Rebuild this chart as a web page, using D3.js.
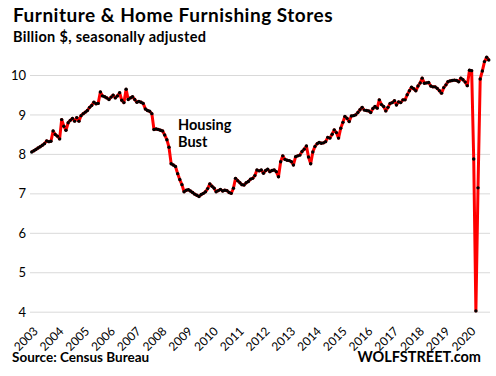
<!DOCTYPE html>
<html>
<head>
<meta charset="utf-8">
<script src="https://cdn.jsdelivr.net/npm/d3@7"></script>
<style>
  body { margin: 0; background: #fff; }
  svg text { font-family: Lato, "Open Sans", sans-serif; fill: #000; }
</style>
</head>
<body>
<div id="chart"></div>
<script>
// monthly sales, billion $, Jan 2003 .. Oct 2020
const startYear = 2003;
const v2003 = [8.05, 8.08, 8.11, 8.15, 8.18, 8.22, 8.26, 8.33, 8.31, 8.32, 8.58, 8.49];
const v2004 = [8.45, 8.38, 8.87, 8.70, 8.60, 8.79, 8.85, 8.90, 8.83, 8.92, 8.83, 8.97];
const v2005 = [9.02, 9.06, 9.10, 9.18, 9.23, 9.31, 9.27, 9.28, 9.57, 9.47, 9.45, 9.42];
const v2006 = [9.38, 9.44, 9.49, 9.42, 9.47, 9.55, 9.36, 9.30, 9.64, 9.38, 9.42, 9.45];
const v2007 = [9.38, 9.31, 9.33, 9.31, 9.28, 9.14, 9.10, 9.08, 9.02, 8.62, 8.63, 8.62];
const v2008 = [8.60, 8.58, 8.48, 8.36, 8.17, 7.75, 7.72, 7.68, 7.50, 7.35, 7.22, 7.04];
const v2009 = [7.08, 7.09, 7.06, 7.02, 6.98, 6.95, 6.92, 6.97, 7.00, 7.04, 7.12, 7.24];
const v2010 = [7.18, 7.13, 7.04, 7.07, 7.10, 7.06, 7.08, 7.07, 7.02, 7.00, 7.13, 7.38];
const v2011 = [7.32, 7.27, 7.22, 7.21, 7.27, 7.30, 7.36, 7.38, 7.45, 7.59, 7.57, 7.59];
const v2012 = [7.51, 7.58, 7.61, 7.55, 7.58, 7.59, 7.55, 7.42, 7.80, 7.95, 7.86, 7.84];
const v2013 = [7.83, 7.80, 7.72, 7.93, 7.95, 7.97, 8.06, 8.12, 8.20, 7.92, 7.75, 8.05];
const v2014 = [8.19, 8.26, 8.29, 8.27, 8.28, 8.31, 8.42, 8.40, 8.50, 8.61, 8.54, 8.40];
const v2015 = [8.65, 8.80, 8.95, 8.90, 8.82, 8.96, 8.97, 8.99, 9.05, 9.12, 9.18, 9.11];
const v2016 = [9.10, 9.09, 9.05, 9.15, 9.20, 9.16, 9.37, 9.25, 9.20, 9.09, 9.18, 9.28];
const v2017 = [9.30, 9.35, 9.24, 9.32, 9.30, 9.37, 9.37, 9.50, 9.60, 9.69, 9.65, 9.60];
const v2018 = [9.72, 9.80, 9.92, 9.79, 9.80, 9.81, 9.72, 9.70, 9.70, 9.66, 9.60, 9.54];
const v2019 = [9.68, 9.75, 9.83, 9.85, 9.86, 9.87, 9.86, 9.83, 9.92, 9.88, 9.82, 9.73];
const v2020 = [10.12, 10.11, 7.87, 4.02, 7.14, 9.90, 10.10, 10.34, 10.45, 10.38];

const yearLabels = d3.range(2003, 2021).map(String);
const yTicks = [4, 5, 6, 7, 8, 9, 10];

const allYears = [v2003, v2004, v2005, v2006, v2007, v2008, v2009, v2010, v2011,
                  v2012, v2013, v2014, v2015, v2016, v2017, v2018, v2019, v2020];
const data = [];
allYears.forEach((arr, i) => {
  arr.forEach((v, m) => data.push({ date: new Date(startYear + i, m, 1), value: v }));
});

const W = 496, H = 376;
const svg = d3.select("#chart").append("svg").attr("width", W).attr("height", H);

const x = d3.scaleTime()
  .domain([data[0].date, data[data.length - 1].date])
  .range([31.7, 488.8]);
const y = d3.scaleLinear().domain([4, 10]).range([311.7, 75]);

// gridlines + y labels
const yAxis = svg.append("g")
  .attr("transform", "translate(30,0)")
  .call(d3.axisLeft(y).tickValues(yTicks).tickSize(-460).tickPadding(4).tickFormat(d3.format("d")));
yAxis.select(".domain").remove();
yAxis.selectAll(".tick line").attr("stroke", "#d9d9d9");
yAxis.selectAll(".tick text").style("font-size", "13px").attr("dy", "0.35em");

// x labels, rotated -45
const xl = svg.append("g")
  .selectAll("g")
  .data(yearLabels)
  .join("g")
  .attr("transform", d => `translate(${x(new Date(+d, 0, 1)) + 4},329)`);
xl.append("text")
  .attr("transform", "rotate(-45)")
  .attr("text-anchor", "end")
  .attr("dy", "0.35em")
  .style("font-size", "12px")
  .text(d => d);

// line
const line = d3.line().x(d => x(d.date)).y(d => y(d.value));
svg.append("path")
  .datum(data)
  .attr("fill", "none")
  .attr("stroke", "#ff0000")
  .attr("stroke-width", 3)
  .attr("stroke-linejoin", "round")
  .attr("d", line);

svg.append("g")
  .selectAll("circle")
  .data(data)
  .join("circle")
  .attr("cx", d => x(d.date))
  .attr("cy", d => y(d.value))
  .attr("r", 1.7)
  .attr("fill", "#000");

// titles
svg.append("text").attr("x", 13).attr("y", 22)
  .style("font-size", "19px").style("font-weight", "bold").style("letter-spacing", "0.5px")
  .text("Furniture & Home Furnishing Stores");
svg.append("text").attr("x", 13).attr("y", 42)
  .style("font-size", "14.5px").style("font-weight", "bold").style("letter-spacing", "0.3px")
  .text("Billion $, seasonally adjusted");

// annotation
svg.append("text").attr("x", 178).attr("y", 129.5)
  .style("font-size", "14.5px").style("font-weight", "bold").text("Housing");
svg.append("text").attr("x", 178).attr("y", 147)
  .style("font-size", "14.5px").style("font-weight", "bold").text("Bust");

// footer
svg.append("text").attr("x", 12).attr("y", 362)
  .style("font-size", "13.5px").style("font-weight", "bold")
  .text("Source: Census Bureau");
svg.append("text").attr("x", 481).attr("y", 362).attr("text-anchor", "end")
  .style("font-size", "14.5px").style("font-weight", "bold")
  .text("WOLFSTREET.com");
</script>
</body>
</html>
